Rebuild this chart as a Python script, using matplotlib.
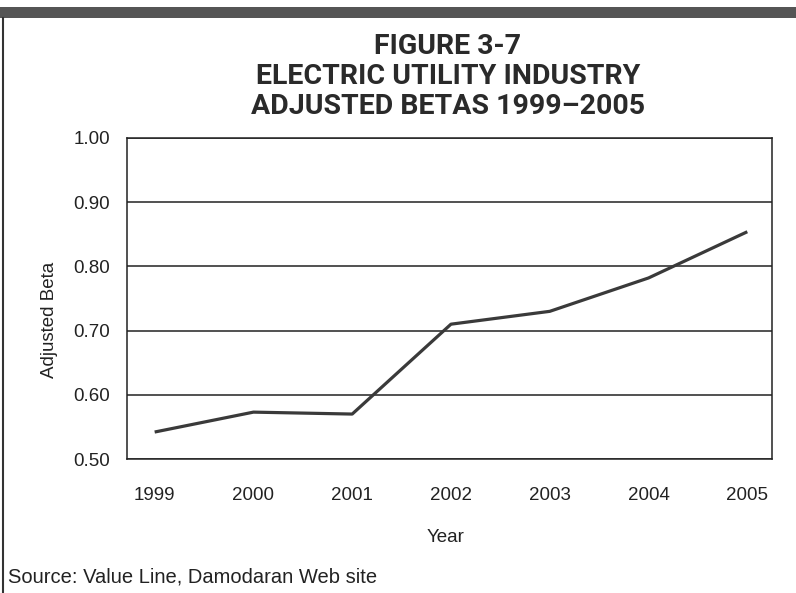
import matplotlib.pyplot as plt
from matplotlib.patches import Rectangle

# data
years = [1999, 2000, 2001, 2002, 2003, 2004, 2005]
betas = [0.542, 0.573, 0.570, 0.710, 0.730, 0.782, 0.854]
ytick_vals = [0.50, 0.60, 0.70, 0.80, 0.90, 1.00]

plt.rcParams['font.family'] = ['Liberation Sans', 'DejaVu Sans']

W, H = 796, 593
fig = plt.figure(figsize=(W / 100, H / 100), dpi=100)
ax = fig.add_axes([127 / W, 1 - 459 / H, (772 - 127) / W, (459 - 138) / H])

ax.plot(years, betas, color='#3a3a3a', linewidth=2.3, solid_capstyle='butt')

ax.set_xlim(1998.72, 2005.25)
ax.set_ylim(0.50, 1.00)
ax.set_yticks(ytick_vals)
ax.set_yticklabels([f"{v:.2f}" for v in ytick_vals])
ax.set_xticks(years)
ax.set_xticklabels([str(y) for y in years])
ax.tick_params(length=0, labelsize=13.5, colors='#222222')
ax.tick_params(axis='x', pad=20)
ax.tick_params(axis='y', pad=12)
ax.yaxis.grid(True, color='#222222', linewidth=1.1)
ax.set_axisbelow(True)
for s in ax.spines.values():
    s.set_color('#222222')
    s.set_linewidth(1.1)

# axis titles placed where the scan has them
fig.text(446 / W, 1 - 537 / H, 'Year', ha='center', va='center', fontsize=13.5, color='#222222')
fig.text(49 / W, 1 - 320 / H, 'Adjusted Beta', ha='center', va='center', rotation=90,
         fontsize=13.5, color='#222222')

title_font = ['Roboto', 'Liberation Sans', 'DejaVu Sans']
for i, line in enumerate(['FIGURE 3-7', 'ELECTRIC UTILITY INDUSTRY', 'ADJUSTED BETAS 1999\u20132005']):
    fig.text(448 / W, 1 - (47 + 30 * i) / H, line, ha='center', va='center',
             fontsize=20.5, fontweight='bold', family=title_font, color='#2a2a2a')

fig.text(8 / W, 1 - 577 / H, 'Source: Value Line, Damodaran Web site',
         ha='left', va='center', fontsize=14.5, color='#222222')

# page frame from the scan: dark band on top, rule on the left
fig.add_artist(Rectangle((0, 1 - 18 / H), 1, 11 / H, transform=fig.transFigure,
                         color='#555555', linewidth=0))
fig.add_artist(plt.Line2D([3 / W, 3 / W], [0, 1 - 18 / H], transform=fig.transFigure,
                          color='#333333', linewidth=1.5))

fig.savefig('out.png', dpi=100)
